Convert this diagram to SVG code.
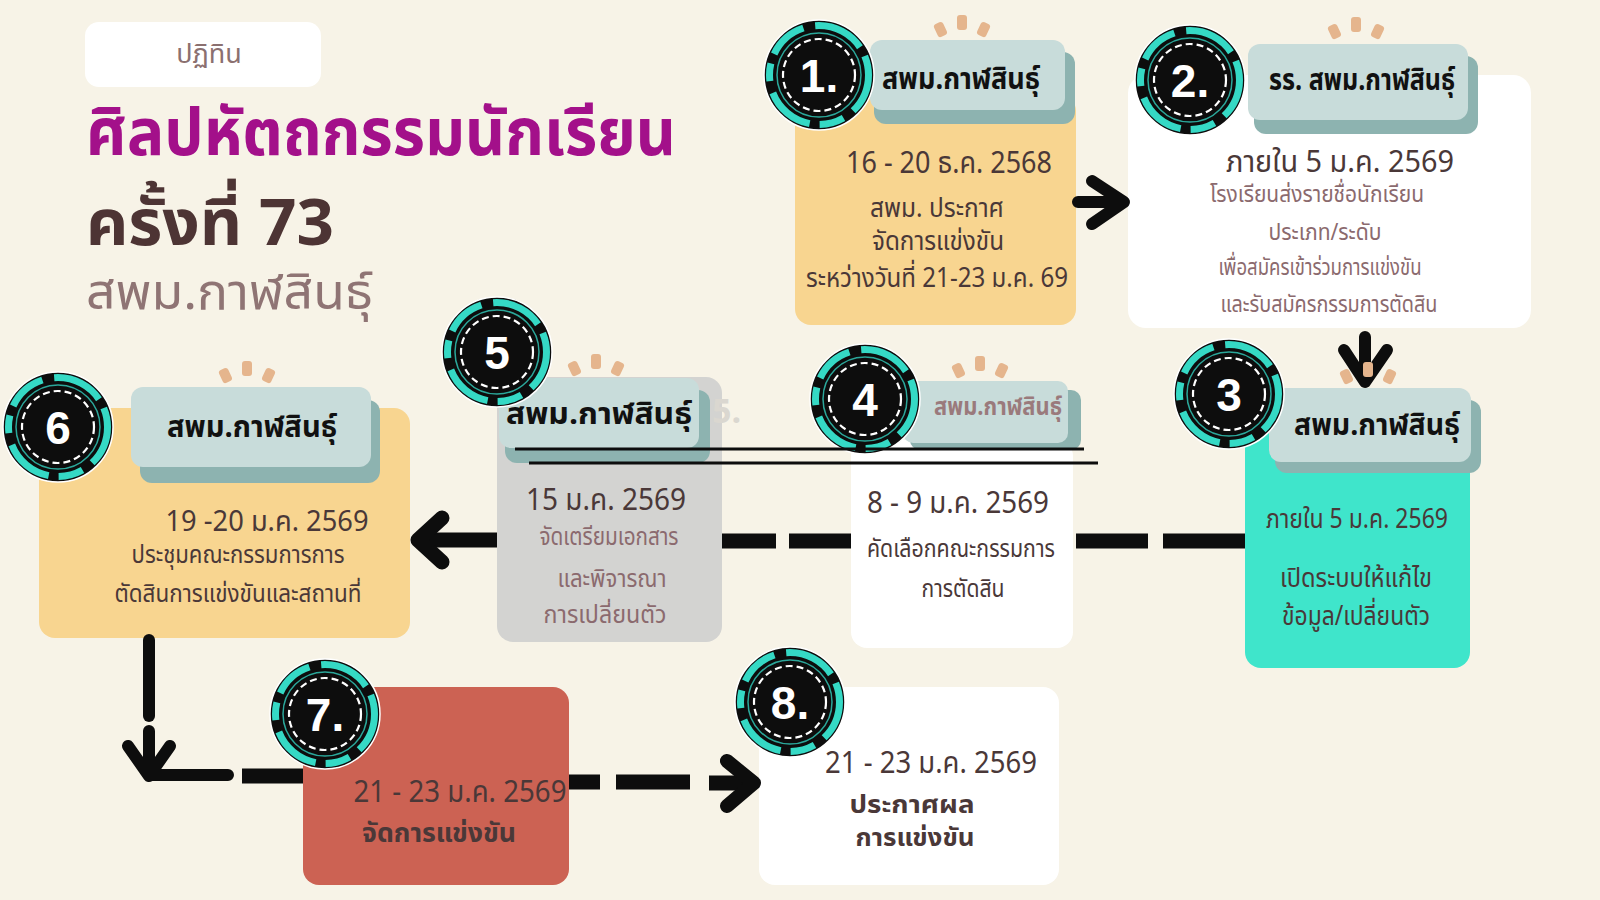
<svg xmlns="http://www.w3.org/2000/svg" xmlns:xlink="http://www.w3.org/1999/xlink" width="1600" height="900" viewBox="0 0 1600 900">
<style>
text{font-family:"Noto Sans Thai","Noto Sans","DejaVu Sans",sans-serif;}
.d{fill:#4A3838;text-anchor:middle;}
.m{fill:#8B6A6E;text-anchor:middle;}
.b{font-weight:700;}
.tab{fill:#C8DCDA;}
.tabs{fill:#8DB3B0;}
.num{fill:#FFFFFF;font-family:"Liberation Sans","DejaVu Sans",sans-serif;font-weight:700;font-size:46px;text-anchor:middle;}
.ln{fill:none;stroke:#0D0D0D;stroke-linecap:round;stroke-linejoin:round;}
.dash{fill:none;stroke:#0D0D0D;stroke-width:15;stroke-linecap:butt;}
</style>
<defs>
<g id="badge">
<circle r="55" fill="#0D0D0D" stroke="#FFFFFF" stroke-width="1.5"/>
<circle r="49.5" fill="none" stroke="#35D9C5" stroke-width="7" stroke-dasharray="40 12 25 10 50 12 18 10 40 12 52 10"/>
<circle r="42" fill="none" stroke="#2BA79A" stroke-width="1.5"/>
<circle r="36" fill="none" stroke="#FFFFFF" stroke-width="2.2" stroke-dasharray="7 4"/>
</g>
<g id="spark" fill="#E5B58D">
<rect x="-5" y="-16" width="10" height="15" rx="3"/>
<rect x="-5" y="-13" width="10" height="14" rx="3" transform="translate(-19,4) rotate(-25)"/>
<rect x="-5" y="-13" width="10" height="14" rx="3" transform="translate(19,4) rotate(25)"/>
</g>
</defs>
<rect width="1600" height="900" fill="#F7F3E7"/>

<g id="header">
<rect x="85" y="22" width="236" height="65" rx="14" fill="#FFFFFF"/>
<text x="209" y="63" font-size="27" fill="#8B7070" text-anchor="middle">ปฏิทิน</text>
<text x="86" y="155" font-size="66" font-weight="700" fill="#A3108A" textLength="590" lengthAdjust="spacingAndGlyphs">ศิลปหัตถกรรมนักเรียน</text>
<text x="86" y="245" font-size="64" font-weight="700" fill="#4D3434" textLength="248" lengthAdjust="spacingAndGlyphs">ครั้งที่ 73</text>
<text x="86" y="309" font-size="50" fill="#8F7474" textLength="287" lengthAdjust="spacingAndGlyphs">สพม.กาฬสินธุ์</text>
</g>

<g id="node1">
<rect x="795" y="95" width="281" height="230" rx="16" fill="#F8D590"/>
<rect class="tabs" x="874" y="52" width="201" height="72" rx="12"/>
<rect class="tab" x="870" y="40" width="195" height="70" rx="12"/>
<text class="b" x="882" y="89" font-size="30" fill="#111111" textLength="158" lengthAdjust="spacingAndGlyphs">สพม.กาฬสินธุ์</text>
<use xlink:href="#badge" x="819" y="75"/>
<text class="num" x="819" y="92">1.</text>
<use xlink:href="#spark" x="962" y="31"/>
<text class="d" x="949" y="173" font-size="30" textLength="206" lengthAdjust="spacingAndGlyphs">16 - 20 ธ.ค. 2568</text>
<text class="d" x="937" y="217" font-size="27" textLength="134" lengthAdjust="spacingAndGlyphs">สพม. ประกาศ</text>
<text class="d" x="938" y="250" font-size="27" textLength="132" lengthAdjust="spacingAndGlyphs">จัดการแข่งขัน</text>
<text class="d" x="937" y="287" font-size="27" textLength="262" lengthAdjust="spacingAndGlyphs">ระหว่างวันที่ 21-23 ม.ค. 69</text>
</g>

<g id="node2">
<rect x="1128" y="75" width="403" height="253" rx="18" fill="#FFFFFF"/>
<rect class="tabs" x="1254" y="56" width="224" height="78" rx="12"/>
<rect class="tab" x="1248" y="44" width="220" height="76" rx="12"/>
<text class="b" x="1269" y="90" font-size="30" fill="#111111" textLength="186" lengthAdjust="spacingAndGlyphs">รร. สพม.กาฬสินธุ์</text>
<use xlink:href="#badge" x="1190" y="80"/>
<text class="num" x="1190" y="97">2.</text>
<use xlink:href="#spark" x="1356" y="33"/>
<text class="d" x="1340" y="172" font-size="31" textLength="228" lengthAdjust="spacingAndGlyphs">ภายใน 5 ม.ค. 2569</text>
<text class="m" x="1317" y="202" font-size="23" textLength="214" lengthAdjust="spacingAndGlyphs">โรงเรียนส่งรายชื่อนักเรียน</text>
<text class="m" x="1325" y="240" font-size="23" textLength="113" lengthAdjust="spacingAndGlyphs">ประเภท/ระดับ</text>
<text class="m" x="1320" y="275" font-size="23" textLength="203" lengthAdjust="spacingAndGlyphs">เพื่อสมัครเข้าร่วมการแข่งขัน</text>
<text class="m" x="1329" y="312" font-size="23" textLength="217" lengthAdjust="spacingAndGlyphs">และรับสมัครกรรมการตัดสิน</text>
</g>

<g id="node3">
<rect x="1245" y="410" width="225" height="258" rx="16" fill="#3FE5CB"/>
<rect class="tabs" x="1275" y="400" width="206" height="73" rx="12"/>
<rect class="tab" x="1269" y="388" width="202" height="74" rx="12"/>
<text class="b" x="1294" y="435" font-size="30" fill="#111111" textLength="166" lengthAdjust="spacingAndGlyphs">สพม.กาฬสินธุ์</text>
<use xlink:href="#badge" x="1229" y="394"/>
<text class="num" x="1229" y="411">3</text>
<text class="d" x="1357" y="528" font-size="27" textLength="182" lengthAdjust="spacingAndGlyphs">ภายใน 5 ม.ค. 2569</text>
<text class="d" x="1356" y="587" font-size="27" textLength="152" lengthAdjust="spacingAndGlyphs">เปิดระบบให้แก้ไข</text>
<text class="d" x="1356" y="625" font-size="27" textLength="148" lengthAdjust="spacingAndGlyphs">ข้อมูล/เปลี่ยนตัว</text>
</g>

<g id="node4">
<rect x="851" y="440" width="222" height="208" rx="16" fill="#FFFFFF"/>
<rect class="tabs" x="910" y="390" width="171" height="60" rx="10"/>
<rect class="tab" x="903" y="381" width="165" height="62" rx="10"/>
<text class="b" x="934" y="415" font-size="25" fill="#9A7A7C" textLength="128" lengthAdjust="spacingAndGlyphs">สพม.กาฬสินธุ์</text>
<use xlink:href="#badge" x="865" y="399"/>
<text class="num" x="865" y="416">4</text>
<use xlink:href="#spark" x="980" y="372"/>
<text class="d" x="958" y="513" font-size="31" textLength="182" lengthAdjust="spacingAndGlyphs">8 - 9 ม.ค. 2569</text>
<text class="d" x="961" y="557" font-size="25" textLength="188" lengthAdjust="spacingAndGlyphs">คัดเลือกคณะกรรมการ</text>
<text class="d" x="963" y="597" font-size="25" textLength="83" lengthAdjust="spacingAndGlyphs">การตัดสิน</text>
</g>

<g id="node5">
<rect x="497" y="377" width="225" height="265" rx="16" fill="#D3D3D1"/>
<text x="712" y="423" font-size="34" font-weight="700" fill="#DAD7D0">5.</text>
<rect class="tabs" x="505" y="390" width="205" height="73" rx="12"/>
<rect class="tab" x="499" y="378" width="200" height="70" rx="12"/>
<text class="b" x="506" y="424" font-size="30" fill="#111111" textLength="186" lengthAdjust="spacingAndGlyphs">สพม.กาฬสินธุ์</text>
<use xlink:href="#badge" x="497" y="352"/>
<text class="num" x="497" y="369">5</text>
<use xlink:href="#spark" x="596" y="370"/>
<text class="d" x="606" y="510" font-size="31" textLength="160" lengthAdjust="spacingAndGlyphs">15  ม.ค. 2569</text>
<text class="m" x="609" y="545" font-size="24" textLength="139" lengthAdjust="spacingAndGlyphs">จัดเตรียมเอกสาร</text>
<text class="m" x="612" y="587" font-size="24" textLength="109" lengthAdjust="spacingAndGlyphs">และพิจารณา</text>
<text class="m" x="605" y="623" font-size="24" textLength="123" lengthAdjust="spacingAndGlyphs">การเปลี่ยนตัว</text>
</g>

<g id="node6">
<rect x="39" y="408" width="371" height="230" rx="16" fill="#F8D590"/>
<rect class="tabs" x="140" y="400" width="240" height="83" rx="12"/>
<rect class="tab" x="131" y="387" width="240" height="80" rx="12"/>
<text class="b" x="167" y="437" font-size="30" fill="#111111" textLength="170" lengthAdjust="spacingAndGlyphs">สพม.กาฬสินธุ์</text>
<use xlink:href="#badge" x="58" y="427"/>
<text class="num" x="58" y="444">6</text>
<use xlink:href="#spark" x="247" y="377"/>
<text class="d" x="267" y="531" font-size="29" textLength="203" lengthAdjust="spacingAndGlyphs">19 -20 ม.ค. 2569</text>
<text class="d" x="238" y="563" font-size="24" textLength="213" lengthAdjust="spacingAndGlyphs">ประชุมคณะกรรมการการ</text>
<text class="d" x="238" y="602" font-size="24" textLength="247" lengthAdjust="spacingAndGlyphs">ตัดสินการแข่งขันและสถานที่</text>
</g>

<g id="node7">
<rect x="303" y="687" width="266" height="198" rx="16" fill="#CC6253"/>
<use xlink:href="#badge" x="325" y="714"/>
<text class="num" x="325" y="731">7.</text>
<text class="d" x="460" y="802" font-size="31" fill="#2E2020" textLength="213" lengthAdjust="spacingAndGlyphs">21 - 23 ม.ค. 2569</text>
<text class="d b" x="439" y="842" font-size="27" fill="#1A1212" textLength="154" lengthAdjust="spacingAndGlyphs">จัดการแข่งขัน</text>
</g>

<g id="node8">
<rect x="759" y="687" width="300" height="198" rx="16" fill="#FFFFFF"/>
<use xlink:href="#badge" x="790" y="702"/>
<text class="num" x="790" y="719">8.</text>
<text class="d" x="931" y="773" font-size="31" fill="#2E2020" textLength="212" lengthAdjust="spacingAndGlyphs">21 - 23 ม.ค. 2569</text>
<text class="d b" x="912" y="813" font-size="25" fill="#1A1212" textLength="125" lengthAdjust="spacingAndGlyphs">ประกาศผล</text>
<text class="d b" x="915" y="846" font-size="25" fill="#1A1212" textLength="119" lengthAdjust="spacingAndGlyphs">การแข่งขัน</text>
</g>

<g id="connectors">
<path class="ln" stroke-width="12" d="M1078,202 H1120 M1092,181 L1124,202 L1092,224"/>
<path class="ln" stroke-width="12" d="M1365,337 V380 M1344,350 L1365,382 L1387,350"/>
<use xlink:href="#spark" x="1368" y="378"/>
<path class="dash" d="M1245,541 H1163 M1148,541 H1076 M851,541 H789 M776,541 H722 M497,540 H422"/>
<path class="ln" stroke-width="15" d="M442,518 L418,540 L442,562"/>
<path class="ln" stroke-width="12" stroke-linecap="butt" d="M149,640 V716"/>
<path class="ln" stroke-width="12" d="M149,731 V775 H228 M128,746 L149,776 L170,746"/>
<path class="dash" stroke-width="12" d="M242,776 H303"/>
<path class="dash" stroke-width="14" d="M569,782 H600 M616,782 H690 M709,783 H748"/>
<path class="ln" stroke-width="14" d="M727,761 L754,783 L727,806"/>
<path fill="none" stroke="#0D0D0D" stroke-width="3" d="M515,449 H1084 M529,463 H1098"/>
</g>
</svg>
